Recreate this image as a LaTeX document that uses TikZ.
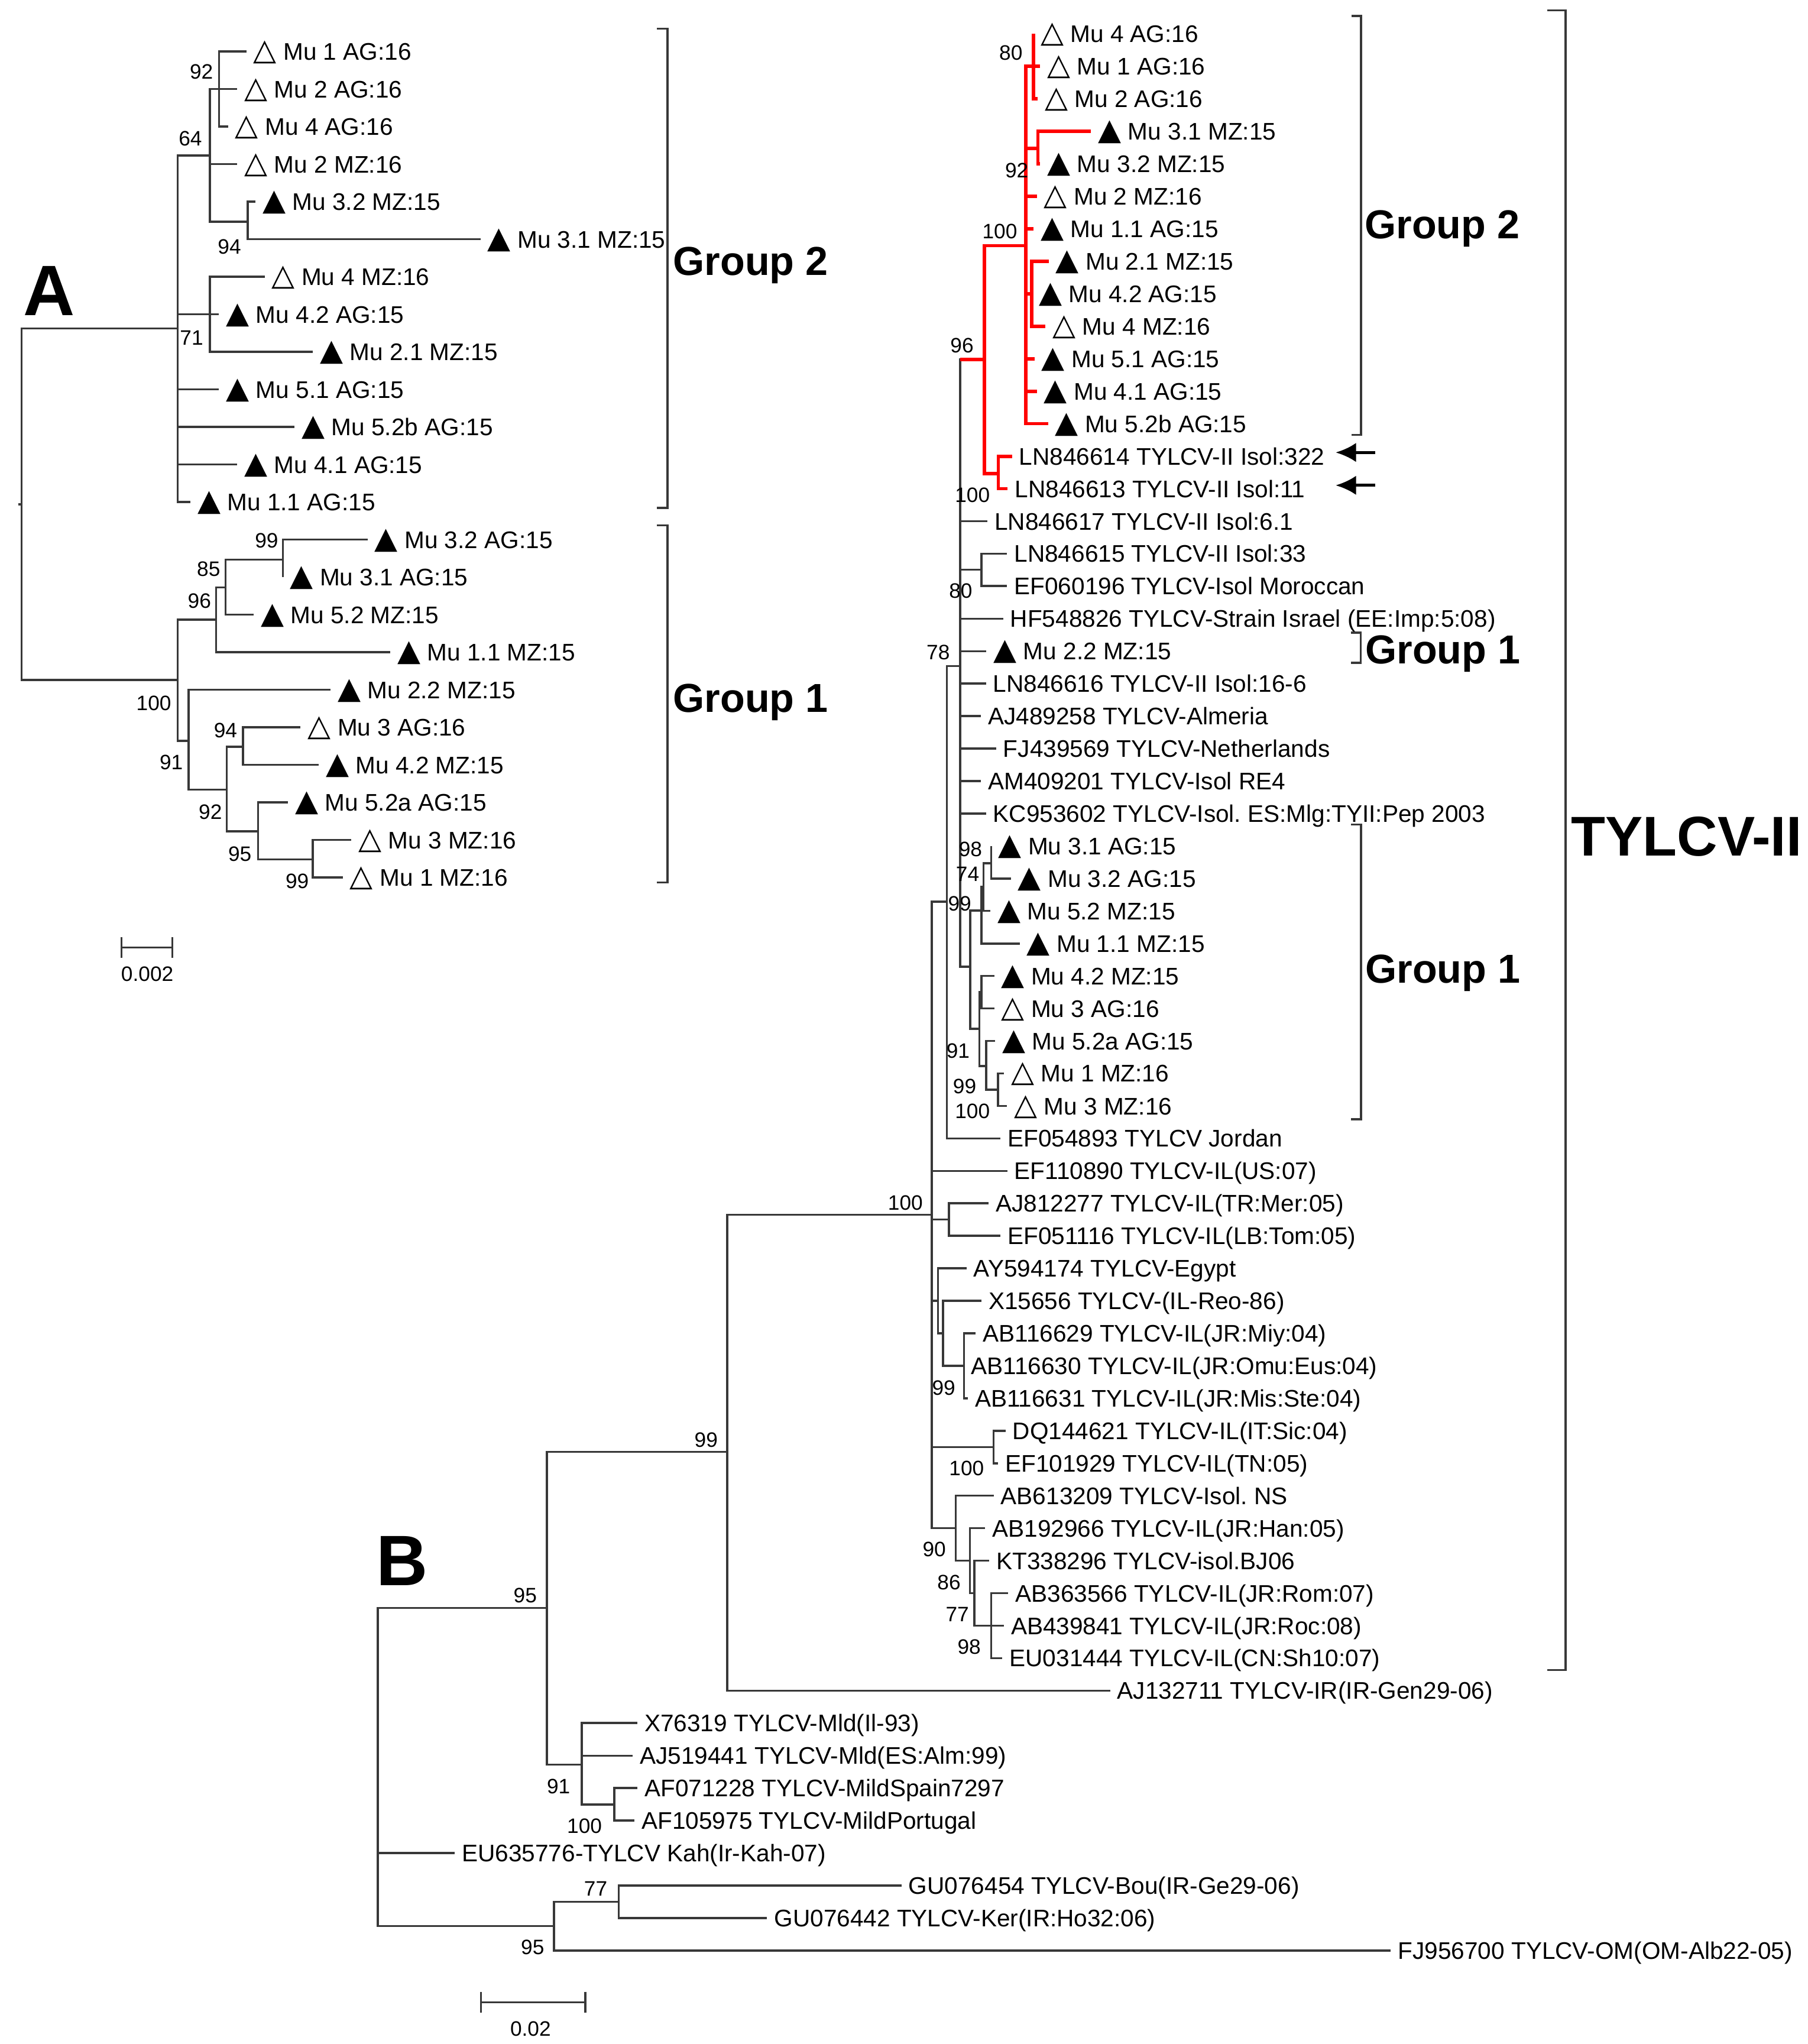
\documentclass[tikz,border=0pt]{standalone}
\usepackage{fontspec}
\setmainfont{Liberation Sans}
\newfontfamily\trifont{DejaVu Sans}
\usetikzlibrary{arrows.meta}
\frenchspacing

\newcommand\solidtri{{\trifont\fontsize{11.5}{11.5}\selectfont ▲}\hspace{2.6pt}}
\newcommand\opentri{{\trifont\fontsize{11.5}{11.5}\selectfont △}\hspace{2.6pt}}

\tikzset{
  branch/.style={draw=black!78, line width=0.8pt},
  redbranch/.style={draw=red, line width=1.3pt},
  bracket/.style={draw=black!78, line width=0.8pt},
  pointer/.style={draw=black, line width=1.1pt, -{Latex[length=7.8pt,width=7.4pt]}},
  scalebar/.style={draw=black!78, line width=0.8pt, {Bar[width=8.1pt]}-{Bar[width=8.1pt]}},
  taxon/.style={anchor=west, inner xsep=2.75pt, inner ysep=0pt, outer sep=0pt,
    text height=6.6pt, text depth=0pt, font=\fontsize{9.2}{10}\selectfont},
  boot/.style={inner sep=0pt, text height=5.7pt, text depth=0pt, font=\fontsize{8}{9}\selectfont},
  grouplabel/.style={anchor=west, inner sep=0pt, text height=11.1pt, text depth=0pt,
    font=\bfseries\fontsize{15.5}{16}\selectfont},
  cladelabel/.style={anchor=west, inner sep=0pt, text height=15.4pt, text depth=0pt,
    font=\bfseries\fontsize{21.5}{22}\selectfont},
  panel/.style={inner sep=0pt, text height=19.6pt, text depth=0pt, font=\bfseries\fontsize{27.4}{28}\selectfont}
}

\begin{document}
\begin{tikzpicture}[x=0.5pt, y=-0.5pt]
  \path[fill=white, use as bounding box] (0,0) rectangle (1387,1568);

  \node (panA) [panel] at (37.8, 222.6) {A};
  \node (panB) [panel] at (308.7, 1196.5) {B};

  \coordinate (rAstub) at (13.9, 387);
  \coordinate (rA) at (16.6, 387);
  \coordinate (gA2) at (136.4, 252);
  \coordinate (gA1) at (136.4, 521.5);
  \coordinate (nA64) at (161, 119.3);
  \coordinate (nA92) at (168, 68.3);
  \coordinate (nA94) at (190, 170);
  \coordinate (nA71) at (161, 241.1);
  \coordinate (nA96) at (165.7, 475.3);
  \coordinate (nA85) at (173, 450.7);
  \coordinate (nA99) at (217, 429.4);
  \coordinate (nA91) at (144.7, 568.3);
  \coordinate (nA92b) at (174, 605.8);
  \coordinate (nA94b) at (186.3, 572.9);
  \coordinate (nA95) at (198, 637.7);
  \coordinate (nA99b) at (240, 659.2);

  \node (a00) [taxon] at (189, 39.5) {\opentri Mu 1 AG:16};
  \node (a01) [taxon] at (182, 68.3) {\opentri Mu 2 AG:16};
  \node (a02) [taxon] at (175, 97.1) {\opentri Mu 4 AG:16};
  \node (a03) [taxon] at (182, 125.9) {\opentri Mu 2 MZ:16};
  \node (a04) [taxon] at (196, 154.7) {\solidtri Mu 3.2 MZ:15};
  \node (a05) [taxon] at (368.6, 183.5) {\solidtri Mu 3.1 MZ:15};
  \node (a06) [taxon] at (203, 212.3) {\opentri Mu 4 MZ:16};
  \node (a07) [taxon] at (168, 241.1) {\solidtri Mu 4.2 AG:15};
  \node (a08) [taxon] at (240, 269.9) {\solidtri Mu 2.1 MZ:15};
  \node (a09) [taxon] at (168, 298.7) {\solidtri Mu 5.1 AG:15};
  \node (a10) [taxon] at (226, 327.5) {\solidtri Mu 5.2b AG:15};
  \node (a11) [taxon] at (182, 356.3) {\solidtri Mu 4.1 AG:15};
  \node (a12) [taxon] at (146, 385.1) {\solidtri Mu 1.1 AG:15};
  \node (a13) [taxon] at (282, 413.9) {\solidtri Mu 3.2 AG:15};
  \node (a14) [taxon] at (217, 442.7) {\solidtri Mu 3.1 AG:15};
  \node (a15) [taxon] at (194.6, 471.5) {\solidtri Mu 5.2 MZ:15};
  \node (a16) [taxon] at (299.4, 500.3) {\solidtri Mu 1.1 MZ:15};
  \node (a17) [taxon] at (253.5, 529.1) {\solidtri Mu 2.2 MZ:15};
  \node (a18) [taxon] at (230.6, 557.9) {\opentri Mu 3 AG:16};
  \node (a19) [taxon] at (244.5, 586.7) {\solidtri Mu 4.2 MZ:15};
  \node (a20) [taxon] at (221, 615.5) {\solidtri Mu 5.2a AG:15};
  \node (a21) [taxon] at (269.5, 644.3) {\opentri Mu 3 MZ:16};
  \node (a22) [taxon] at (263, 673.1) {\opentri Mu 1 MZ:16};

  \draw[branch] (rAstub) -- (rA);
  \draw[branch] (rA) |- (gA2) (rA) |- (gA1);
  \draw[branch] (gA2) |- (nA64) (gA2) |- (nA71) (gA2) |- (a09.west) (gA2) |- (a10.west)
    (gA2) |- (a11.west) (gA2) |- (a12.west);
  \draw[branch] (nA64) |- (nA92) (nA64) |- (a03.west) (nA64) |- (nA94);
  \draw[branch] (nA92) |- (a00.west) (nA92) |- (a01.west) (nA92) |- (a02.west);
  \draw[branch] (nA94) |- (a04.west) (nA94) |- (a05.west);
  \draw[branch] (nA71) |- (a06.west) (nA71) |- (a07.west) (nA71) |- (a08.west);
  \draw[branch] (gA1) |- (nA96) (gA1) |- (nA91);
  \draw[branch] (nA96) |- (nA85) (nA96) |- (a16.west);
  \draw[branch] (nA85) |- (nA99) (nA85) |- (a15.west);
  \draw[branch] (nA99) |- (a13.west) (nA99) |- (a14.west);
  \draw[branch] (nA91) |- (a17.west) (nA91) |- (nA92b);
  \draw[branch] (nA92b) |- (nA94b) (nA92b) |- (nA95);
  \draw[branch] (nA94b) |- (a18.west) (nA94b) |- (a19.west);
  \draw[branch] (nA95) |- (a20.west) (nA95) |- (nA99b);
  \draw[branch] (nA99b) |- (a21.west) (nA99b) |- (a22.west);

  \node (bA92) [boot] at (154.5, 55) {92};
  \node (bA64) [boot] at (146, 106) {64};
  \node (bA94) [boot] at (176, 189) {94};
  \node (bA71) [boot] at (147, 259) {71};
  \node (bA99) [boot] at (204.5, 414.5) {99};
  \node (bA85) [boot] at (160, 436.5) {85};
  \node (bA96) [boot] at (153, 460.7) {96};
  \node (bA100) [boot] at (118, 539.4) {100};
  \node (bA91) [boot] at (131.4, 584.5) {91};
  \node (bA94b) [boot] at (173, 560.2) {94};
  \node (bA92b) [boot] at (161.4, 622.7) {92};
  \node (bA95) [boot] at (184, 655) {95};
  \node (bA99b) [boot] at (228, 676) {99};

  \coordinate (sbA1) at (92.5, 726.8);
  \coordinate (sbA2) at (133, 726.8);
  \draw[scalebar] (sbA1) -- (sbA2);
  \node (sbAl) [boot] at (113, 747) {0.002};

  \coordinate (brA2a) at (504, 22);
  \coordinate (brA2c) at (512, 389.5);
  \coordinate (brA2b) at (504, 389.5);
  \draw[bracket] (brA2a) -| (brA2c) -- (brA2b);
  \node (gA2l) [grouplabel] at (516, 200) {Group 2};
  \coordinate (brA1a) at (504, 403);
  \coordinate (brA1c) at (512, 677);
  \coordinate (brA1b) at (504, 677);
  \draw[bracket] (brA1a) -| (brA1c) -- (brA1b);
  \node (gA1l) [grouplabel] at (516, 535) {Group 1};

  \coordinate (rB) at (289.9, 1355);
  \coordinate (nB95a) at (419.6, 1233.5);
  \coordinate (nB99) at (557.9, 1113.8);
  \coordinate (nB91) at (446.3, 1353.6);
  \coordinate (nB100c) at (471.2, 1384.3);
  \coordinate (nB95b) at (425, 1477.4);
  \coordinate (nB77) at (474.7, 1459);
  \coordinate (nX) at (714.9, 931.9);
  \coordinate (nW) at (726.4, 691.6);
  \coordinate (nAJ) at (728, 935.4);
  \coordinate (nY) at (719.5, 997.9);
  \coordinate (nZ) at (723.4, 1022.7);
  \coordinate (n99c) at (739.5, 1047.7);
  \coordinate (nDQ) at (762.3, 1110);
  \coordinate (n90) at (733.1, 1172.3);
  \coordinate (n86) at (744, 1197.2);
  \coordinate (n77) at (747.5, 1222.2);
  \coordinate (n98) at (760.5, 1247.1);
  \coordinate (n78) at (736.5, 510.9);
  \coordinate (n96) at (755.2, 275.7);
  \coordinate (n100r) at (786.8, 188.4);
  \coordinate (n80) at (792.8, 50.9);
  \coordinate (n92r) at (796.2, 114);
  \coordinate (nR7) at (791.5, 225.4);
  \coordinate (n100ln) at (765.8, 363.4);
  \coordinate (nLN15) at (752.9, 437.1);
  \coordinate (nG1) at (744.2, 741.5);
  \coordinate (n99g) at (752.9, 698.4);
  \coordinate (n74) at (754.4, 680.3);
  \coordinate (n98g) at (760.4, 662.2);
  \coordinate (n91g) at (751.3, 789.2);
  \coordinate (nG1b) at (752.9, 761.2);
  \coordinate (n95g) at (756.6, 817.9);
  \coordinate (n100g) at (765.7, 836);

  \node (b00) [taxon] at (792.8, 26.0) {\opentri Mu 4 AG:16};
  \node (b01) [taxon] at (798, 50.9) {\opentri Mu 1 AG:16};
  \node (b02) [taxon] at (796, 75.8) {\opentri Mu 2 AG:16};
  \node (b03) [taxon] at (837, 100.8) {\solidtri Mu 3.1 MZ:15};
  \node (b04) [taxon] at (798, 125.7) {\solidtri Mu 3.2 MZ:15};
  \node (b05) [taxon] at (795.4, 150.6) {\opentri Mu 2 MZ:16};
  \node (b06) [taxon] at (792.8, 175.5) {\solidtri Mu 1.1 AG:15};
  \node (b07) [taxon] at (804.5, 200.4) {\solidtri Mu 2.1 MZ:15};
  \node (b08) [taxon] at (791.5, 225.4) {\solidtri Mu 4.2 AG:15};
  \node (b09) [taxon] at (802, 250.3) {\opentri Mu 4 MZ:16};
  \node (b10) [taxon] at (793.6, 275.2) {\solidtri Mu 5.1 AG:15};
  \node (b11) [taxon] at (795.4, 300.1) {\solidtri Mu 4.1 AG:15};
  \node (b12) [taxon] at (804, 325.0) {\solidtri Mu 5.2b AG:15};
  \node (b13) [taxon] at (776.4, 350.0) {LN846614 TYLCV-II Isol:322};
  \node (b14) [taxon] at (773.1, 374.9) {LN846613 TYLCV-II Isol:11};
  \node (b15) [taxon] at (757.5, 399.8) {LN846617 TYLCV-II Isol:6.1};
  \node (b16) [taxon] at (772.6, 424.7) {LN846615 TYLCV-II Isol:33};
  \node (b17) [taxon] at (772.6, 449.6) {EF060196 TYLCV-Isol Moroccan};
  \node (b18) [taxon] at (769.6, 474.6) {HF548826 TYLCV-Strain Israel (EE:Imp:5:08)};
  \node (b19) [taxon] at (756.7, 499.5) {\solidtri Mu 2.2 MZ:15};
  \node (b20) [taxon] at (756.4, 524.4) {LN846616 TYLCV-II Isol:16-6};
  \node (b21) [taxon] at (752.5, 549.3) {AJ489258 TYLCV-Almeria};
  \node (b22) [taxon] at (764.2, 574.2) {FJ439569 TYLCV-Netherlands};
  \node (b23) [taxon] at (752.5, 599.2) {AM409201 TYLCV-Isol RE4};
  \node (b24) [taxon] at (756.4, 624.1) {KC953602 TYLCV-Isol. ES:Mlg:TYII:Pep 2003};
  \node (b25) [taxon] at (760.4, 649.0) {\solidtri Mu 3.1 AG:15};
  \node (b26) [taxon] at (775.5, 673.9) {\solidtri Mu 3.2 AG:15};
  \node (b27) [taxon] at (759.7, 698.8) {\solidtri Mu 5.2 MZ:15};
  \node (b28) [taxon] at (782.3, 723.8) {\solidtri Mu 1.1 MZ:15};
  \node (b29) [taxon] at (762.7, 748.7) {\solidtri Mu 4.2 MZ:15};
  \node (b30) [taxon] at (762.7, 773.6) {\opentri Mu 3 AG:16};
  \node (b31) [taxon] at (763.4, 798.5) {\solidtri Mu 5.2a AG:15};
  \node (b32) [taxon] at (770.2, 823.4) {\opentri Mu 1 MZ:16};
  \node (b33) [taxon] at (772.5, 848.4) {\opentri Mu 3 MZ:16};
  \node (b34) [taxon] at (767.5, 873.3) {EF054893 TYLCV Jordan};
  \node (b35) [taxon] at (772.7, 898.2) {EF110890 TYLCV-IL(US:07)};
  \node (b36) [taxon] at (758.4, 923.1) {AJ812277 TYLCV-IL(TR:Mer:05)};
  \node (b37) [taxon] at (767.5, 948.0) {EF051116 TYLCV-IL(LB:Tom:05)};
  \node (b38) [taxon] at (741.5, 973.0) {AY594174 TYLCV-Egypt};
  \node (b39) [taxon] at (752.9, 997.9) {X15656 TYLCV-(IL-Reo-86)};
  \node (b40) [taxon] at (748.5, 1022.8) {AB116629 TYLCV-IL(JR:Miy:04)};
  \node (b41) [taxon] at (739.5, 1047.7) {AB116630 TYLCV-IL(JR:Omu:Eus:04)};
  \node (b42) [taxon] at (742.5, 1072.6) {AB116631 TYLCV-IL(JR:Mis:Ste:04)};
  \node (b43) [taxon] at (771.4, 1097.6) {DQ144621 TYLCV-IL(IT:Sic:04)};
  \node (b44) [taxon] at (765.7, 1122.5) {EF101929 TYLCV-IL(TN:05)};
  \node (b45) [taxon] at (762.3, 1147.4) {AB613209 TYLCV-Isol. NS};
  \node (b46) [taxon] at (755.8, 1172.3) {AB192966 TYLCV-IL(JR:Han:05)};
  \node (b47) [taxon] at (758.9, 1197.2) {KT338296 TYLCV-isol.BJ06};
  \node (b48) [taxon] at (773.5, 1222.2) {AB363566 TYLCV-IL(JR:Rom:07)};
  \node (b49) [taxon] at (770.1, 1247.1) {AB439841 TYLCV-IL(JR:Roc:08)};
  \node (b50) [taxon] at (769, 1272.0) {EU031444 TYLCV-IL(CN:Sh10:07)};
  \node (b51) [taxon] at (851.6, 1296.9) {AJ132711 TYLCV-IR(IR-Gen29-06)};
  \node (b52) [taxon] at (489, 1321.8) {X76319 TYLCV-Mld(Il-93)};
  \node (b53) [taxon] at (485.4, 1346.8) {AJ519441 TYLCV-Mld(ES:Alm:99)};
  \node (b54) [taxon] at (489, 1371.7) {AF071228 TYLCV-MildSpain7297};
  \node (b55) [taxon] at (486.8, 1396.6) {AF105975 TYLCV-MildPortugal};
  \node (b56) [taxon] at (348.9, 1421.5) {EU635776-TYLCV Kah(Ir-Kah-07)};
  \node (b57) [taxon] at (691.6, 1446.4) {GU076454 TYLCV-Bou(IR-Ge29-06)};
  \node (b58) [taxon] at (588.5, 1471.4) {GU076442 TYLCV-Ker(IR:Ho32:06)};
  \node (b59) [taxon] at (1067, 1496.3) {FJ956700 TYLCV-OM(OM-Alb22-05)};

  \draw[branch] (rB) |- (nB95a) (rB) |- (b56.west) (rB) |- (nB95b);
  \draw[branch] (nB95a) |- (nB99) (nB95a) |- (nB91);
  \draw[branch] (nB99) |- (nX) (nB99) |- (b51.west);
  \draw[branch] (nB91) |- (b52.west) (nB91) |- (b53.west) (nB91) |- (nB100c);
  \draw[branch] (nB100c) |- (b54.west) (nB100c) |- (b55.west);
  \draw[branch] (nB95b) |- (nB77) (nB95b) |- (b59.west);
  \draw[branch] (nB77) |- (b57.west) (nB77) |- (b58.west);
  \draw[branch] (nX) |- (nW) (nX) |- (b35.west) (nX) |- (nAJ) (nX) |- (nY) (nX) |- (nDQ) (nX) |- (n90);
  \draw[branch] (nAJ) |- (b36.west) (nAJ) |- (b37.west);
  \draw[branch] (nY) |- (b38.west) (nY) |- (nZ);
  \draw[branch] (nZ) |- (b39.west) (nZ) |- (n99c);
  \draw[branch] (n99c) |- (b40.west) (n99c) |- (b41.west) (n99c) |- (b42.west);
  \draw[branch] (nDQ) |- (b43.west) (nDQ) |- (b44.west);
  \draw[branch] (n90) |- (b45.west) (n90) |- (n86);
  \draw[branch] (n86) |- (b46.west) (n86) |- (n77);
  \draw[branch] (n77) |- (b47.west) (n77) |- (n98);
  \draw[branch] (n98) |- (b48.west) (n98) |- (b49.west) (n98) |- (b50.west);
  \draw[branch] (nW) |- (n78) (nW) |- (b34.west);
  \draw[branch] (n78) |- (n96) (n78) |- (b15.west) (n78) |- (nLN15) (n78) |- (b18.west)
    (n78) |- (b19.west) (n78) |- (b20.west) (n78) |- (b21.west) (n78) |- (b22.west)
    (n78) |- (b23.west) (n78) |- (b24.west) (n78) |- (nG1);
  \draw[branch] (nLN15) |- (b16.west) (nLN15) |- (b17.west);
  \draw[branch] (nG1) |- (n99g) (nG1) |- (n91g);
  \draw[branch] (n99g) |- (n74) (n99g) |- (b28.west);
  \draw[branch] (n74) |- (n98g) (n74) |- (b27.west);
  \draw[branch] (n98g) |- (b25.west) (n98g) |- (b26.west);
  \draw[branch] (n91g) |- (nG1b) (n91g) |- (n95g);
  \draw[branch] (nG1b) |- (b29.west) (nG1b) |- (b30.west);
  \draw[branch] (n95g) |- (b31.west) (n95g) |- (n100g);
  \draw[branch] (n100g) |- (b32.west) (n100g) |- (b33.west);

  \draw[redbranch] (n78 |- n96) -- (n96);
  \draw[redbranch] (n96) |- (n100r) (n96) |- (n100ln);
  \draw[redbranch] (n100r) |- (n80) (n100r) |- (n92r) (n100r) |- (b05.west) (n100r) |- (b06.west)
    (n100r) |- (nR7) (n100r) |- (b10.west) (n100r) |- (b11.west) (n100r) |- (b12.west);
  \draw[redbranch] (n80) |- (b00.west) (n80) |- (b01.west) (n80) |- (b02.west);
  \draw[redbranch] (n92r) |- (b03.west) (n92r) |- (b04.west);
  \draw[redbranch] (nR7) |- (b07.west) (nR7) |- (b08.west) (nR7) |- (b09.west);
  \draw[redbranch] (n100ln) |- (b13.west) (n100ln) |- (b14.west);

  \node (bB80) [boot] at (775.5, 40.5) {80};
  \node (bB92) [boot] at (780, 130.5) {92};
  \node (bB100r) [boot] at (767, 177.5) {100};
  \node (bB96) [boot] at (738, 265) {96};
  \node (bB100ln) [boot] at (746, 379.5) {100};
  \node (bB80b) [boot] at (737, 453) {80};
  \node (bB78) [boot] at (719.7, 500.3) {78};
  \node (bB98g) [boot] at (744.5, 651.5) {98};
  \node (bB74) [boot] at (742.3, 670.5) {74};
  \node (bB99g) [boot] at (736.2, 693) {99};
  \node (bB91g) [boot] at (735, 805.8) {91};
  \node (bB99h) [boot] at (740, 833) {99};
  \node (bB100g) [boot] at (746, 852.3) {100};
  \node (bB100x) [boot] at (694.6, 922.3) {100};
  \node (bB99c) [boot] at (724, 1064.4) {99};
  \node (bB100dq) [boot] at (741.5, 1126.2) {100};
  \node (bB90) [boot] at (716.7, 1188.3) {90};
  \node (bB86) [boot] at (728, 1213.5) {86};
  \node (bB77) [boot] at (734.4, 1238.3) {77};
  \node (bB98) [boot] at (743.5, 1263) {98};
  \node (bB99) [boot] at (541.7, 1104.4) {99};
  \node (bB95a) [boot] at (402.9, 1223.6) {95};
  \node (bB91) [boot] at (428.5, 1370) {91};
  \node (bB100c) [boot] at (448.4, 1400.7) {100};
  \node (bB77b) [boot] at (457, 1448.7) {77};
  \node (bB95b) [boot] at (408.6, 1493.7) {95};

  \coordinate (arr1) at (1055, 347.1);
  \coordinate (arr1tip) at (1024.7, 347.1);
  \coordinate (arr2) at (1055, 372.3);
  \coordinate (arr2tip) at (1024.7, 372.3);
  \draw[pointer] (arr1) -- (arr1tip);
  \draw[pointer] (arr2) -- (arr2tip);

  \coordinate (brB2a) at (1036.7, 12.2);
  \coordinate (brB2c) at (1044, 333.5);
  \coordinate (brB2b) at (1036.7, 333.5);
  \draw[bracket] (brB2a) -| (brB2c) -- (brB2b);
  \node (gB2l) [grouplabel] at (1046.6, 172) {Group 2};
  \coordinate (brB1a) at (1036.4, 485.3);
  \coordinate (brB1c) at (1043.9, 508.4);
  \coordinate (brB1b) at (1036.4, 508.4);
  \draw[bracket] (brB1a) -| (brB1c) -- (brB1b);
  \node (gB1l) [grouplabel] at (1047, 498) {Group 1};
  \coordinate (brB3a) at (1036.5, 632.5);
  \coordinate (brB3c) at (1044, 858.7);
  \coordinate (brB3b) at (1036.5, 858.7);
  \draw[bracket] (brB3a) -| (brB3c) -- (brB3b);
  \node (gB3l) [grouplabel] at (1047, 743) {Group 1};
  \coordinate (brTa) at (1187, 8);
  \coordinate (brTc) at (1201, 1281);
  \coordinate (brTb) at (1187, 1281);
  \draw[bracket] (brTa) -| (brTc) -- (brTb);
  \node (tylcv) [cladelabel] at (1205, 641) {TYLCV-II};

  \coordinate (sbB1) at (368.1, 1536);
  \coordinate (sbB2) at (449.9, 1536);
  \draw[scalebar] (sbB1) -- (sbB2);
  \node (sbBl) [boot] at (407, 1556) {0.02};
\end{tikzpicture}
\end{document}
